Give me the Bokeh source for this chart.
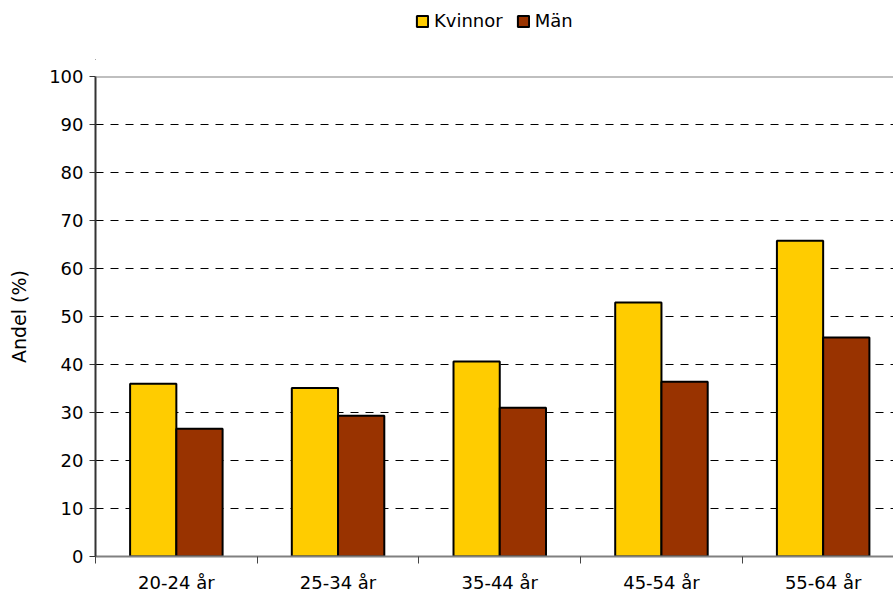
from bokeh.plotting import figure
from bokeh.layouts import column
from bokeh.models import Range1d, FixedTicker, Legend, LegendItem, Span
from bokeh.embed import file_html
from bokeh.resources import INLINE

categories = ["20-24 år", "25-34 år", "35-44 år", "45-54 år", "55-64 år"]
kvinnor = [36.0, 35.1, 40.6, 52.9, 65.8]
man = [26.6, 29.3, 31.0, 36.4, 45.6]
y_ticks = [0, 10, 20, 30, 40, 50, 60, 70, 80, 90, 100]
series_names = ["Kvinnor", "Män"]
series_colors = ["#FFCC00", "#993300"]

FONT = "DejaVu Sans"
n = len(categories)
centers = [i + 0.5 for i in range(n)]
bar_w = 0.286

# ---- legend strip on top (frame aligned with main chart frame) ----
LEG_H = 60
pl = figure(width=893, height=LEG_H, output_backend="svg", toolbar_location=None,
            x_axis_type=None, y_axis_type=None, x_range=Range1d(0, 1), y_range=Range1d(0, 1),
            min_border_left=95, min_border_right=0, min_border_top=0, min_border_bottom=0)
pl.outline_line_color = None
pl.xgrid.visible = False
pl.ygrid.visible = False
# proxy renderers placed outside the visible range, used only for legend swatches
leg_rs = [pl.vbar(x=[-10], top=[-10], bottom=[-11], width=0.1, fill_color=c,
                  line_color="black", line_width=2)
          for c in series_colors]
legend = Legend(items=[LegendItem(label=nm, renderers=[r]) for nm, r in zip(series_names, leg_rs)],
                location=(320, 29), orientation="horizontal")
legend.label_text_font = FONT
legend.label_text_font_size = "18px"
legend.label_text_color = "black"
legend.glyph_width = 14
legend.glyph_height = 14
legend.label_standoff = 5
legend.spacing = 13
legend.padding = 0
legend.margin = 0
legend.border_line_color = None
legend.background_fill_alpha = 0
pl.add_layout(legend, "center")

# ---- main chart ----
p = figure(width=893, height=596 - LEG_H, output_backend="svg", toolbar_location=None,
           x_range=Range1d(0, 4.935), y_range=Range1d(0, 100),
           min_border_left=95, min_border_right=0, min_border_top=76 - LEG_H, min_border_bottom=40)
p.outline_line_color = None
p.background_fill_color = "white"
p.border_fill_color = "white"

rk = p.vbar(x=[c - bar_w / 2 for c in centers], top=kvinnor, width=bar_w, bottom=0,
            fill_color=series_colors[0], line_color="black", line_width=2)
rm = p.vbar(x=[c + bar_w / 2 for c in centers], top=man, width=bar_w, bottom=0,
            fill_color=series_colors[1], line_color="black", line_width=2)

p.xgrid.visible = False
p.ygrid.ticker = FixedTicker(ticks=y_ticks[1:-1])
p.ygrid.grid_line_color = "black"
p.ygrid.grid_line_dash = "8 7"
p.ygrid.grid_line_width = 1
p.ygrid.level = "underlay"
p.add_layout(Span(location=100, dimension="width", line_color="#808080", line_width=2))

ya = p.yaxis[0]
ya.ticker = FixedTicker(ticks=y_ticks)
ya.axis_label = "Andel (%)"
ya.axis_label_text_font = FONT
ya.axis_label_text_font_size = "19px"
ya.axis_label_text_font_style = "normal"
ya.axis_label_text_color = "black"
ya.axis_label_standoff = 16
ya.major_label_text_font = FONT
ya.major_label_text_font_size = "18px"
ya.major_label_text_color = "black"
ya.major_label_standoff = 6
ya.major_tick_out = 6
ya.major_tick_in = 0
ya.major_tick_line_color = "#333333"
ya.minor_tick_line_color = None
ya.axis_line_color = "#333333"
ya.axis_line_width = 2

xa = p.xaxis[0]
xa.ticker = FixedTicker(ticks=centers, minor_ticks=list(range(n + 1)))
xa.major_label_overrides = {c: lab for c, lab in zip(centers, categories)}
xa.major_label_text_font = FONT
xa.major_label_text_font_size = "18px"
xa.major_label_text_color = "black"
xa.major_label_standoff = 8
xa.major_tick_line_color = None
xa.major_tick_out = 7
xa.major_tick_in = 0
xa.minor_tick_line_color = "#444444"
xa.minor_tick_out = 7
xa.minor_tick_in = 0
xa.axis_line_color = "#808080"
xa.axis_line_width = 2

layout = column(pl, p, spacing=0)
open("out.html", "w").write(file_html(layout, INLINE))
